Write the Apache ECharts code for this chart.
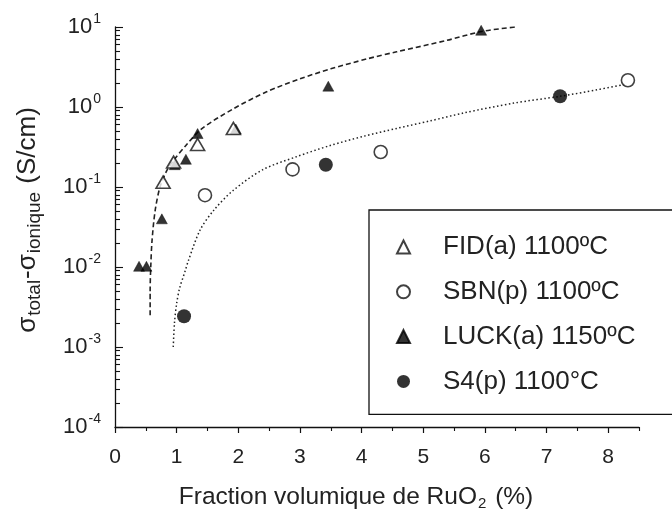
<!DOCTYPE html>
<html><head><meta charset="utf-8">
<script src="https://cdn.jsdelivr.net/npm/echarts@6/dist/echarts.min.js"></script>
<style>html,body{margin:0;padding:0;background:#fff}#c{width:672px;height:510px}</style>
</head><body><div id="c"></div>
<script>
// ---- data ----
const fidName = 'FID(a) 1100ºC';
const sbnName = 'SBN(p) 1100ºC';
const luckName = 'LUCK(a) 1150ºC';
const s4Name = 'S4(p) 1100°C';
const fidData = [[0.78, 0.115], [0.95, 0.205], [1.34, 0.34], [1.92, 0.54]];
const sbnData = [[1.46, 0.079], [2.88, 0.166], [4.31, 0.274], [8.32, 2.16]];
const luckData = [[0.39, 0.0102], [0.51, 0.0102], [0.76, 0.040], [0.97, 0.19], [1.15, 0.222], [1.34, 0.466], [1.96, 0.53], [3.46, 1.82], [5.94, 9.1]];
const s4Data = [[1.12, 0.00242], [3.42, 0.19], [7.22, 1.36]];
const fitDashed = [[0.57, 0.0025], [0.57, 0.005], [0.58, 0.01], [0.60, 0.021], [0.65, 0.05], [0.73, 0.10], [0.84, 0.16], [0.96, 0.22], [1.15, 0.33], [1.40, 0.53], [1.92, 0.95], [2.46, 1.55], [3.0, 2.25], [3.5, 3.0], [4.09, 4.0], [4.57, 4.9], [5.38, 6.8], [5.95, 8.8], [6.49, 10.0]];
const fitDotted = [[0.945, 0.001], [0.965, 0.002], [1.0, 0.0035], [1.05, 0.0055], [1.14, 0.009], [1.19, 0.012], [1.38, 0.029], [1.60, 0.051], [1.92, 0.091], [2.4, 0.165], [2.95, 0.24], [3.49, 0.33], [4.03, 0.43], [4.57, 0.54], [5.11, 0.67], [5.65, 0.84], [6.47, 1.12], [7.22, 1.36], [7.82, 1.64], [8.28, 1.92]];
const xTickLabels = [0, 1, 2, 3, 4, 5, 6, 7, 8];
const xMinorTicks = [0.5, 1.5, 2.5, 3.5, 4.5, 5.5, 6.5, 7.5, 8.5];
const yDecades = [1e-4, 1e-3, 1e-2, 1e-1, 1, 10];
// tick positions in decade units (exponents) for the overlay tick axes
const yMajorExp = yDecades.map(v => Math.round(Math.log10(v)));
const yMinorExp = [];
for (let d = 0; d < yDecades.length - 1; d++) {
  for (let k = 2; k <= 9; k++) yMinorExp.push(Math.log10(k * yDecades[d]));
}

const FONT = 'Liberation Sans';
const INK = '#111';
const TXT = '#222';
const chart = echarts.init(document.getElementById('c'), null, {renderer: 'canvas'});
const xBase = {
  type: 'value', min: 0, max: 8.5, gridIndex: 0, position: 'bottom',
  splitLine: {show: false}
};
const tickAxis = (vals, len) => ({
  type: 'value', min: -4, max: 1, gridIndex: 0, position: 'left',
  axisLine: {show: false, onZero: false}, splitLine: {show: false}, axisLabel: {show: false},
  axisTick: {show: true, inside: true, length: len, customValues: vals, lineStyle: {color: INK, width: 1.1}}
});
chart.setOption({
  backgroundColor: '#fff',
  animation: false,
  grid: {left: 115, right: 33, top: 27, bottom: 83, containLabel: false, outerBoundsMode: 'none'},
  xAxis: [
    Object.assign({}, xBase, {
      axisLine: {show: true, onZero: false, lineStyle: {color: INK, width: 1.3}},
      axisTick: {show: true, inside: false, length: 6, customValues: xTickLabels, lineStyle: {color: INK, width: 1.2}},
      axisLabel: {show: true, customValues: xTickLabels, margin: 20, fontFamily: FONT, fontSize: 21, color: TXT},
      name: 'Fraction volumique de RuO{sub|2} (%)',
      nameLocation: 'middle', nameGap: 57,
      nameTextStyle: {fontFamily: FONT, fontSize: 24.5, color: TXT, padding: [0, 42, 0, 0],
        rich: {sub: {fontFamily: FONT, fontSize: 15, color: TXT, padding: [12, 2, 0, 1]}}}
    }),
    Object.assign({}, xBase, {
      axisLine: {show: false, onZero: false},
      axisTick: {show: true, inside: false, length: 4, customValues: xMinorTicks, lineStyle: {color: INK, width: 1.1}},
      axisLabel: {show: false}
    })
  ],
  yAxis: [
    {
      type: 'log', logBase: 10, min: 1e-4, max: 10, gridIndex: 0, position: 'left',
      splitLine: {show: false}, minorSplitLine: {show: false},
      axisLine: {show: true, onZero: false, lineStyle: {color: INK, width: 1.3}},
      axisTick: {show: false},
      axisLabel: {
        show: true, margin: 14,
        formatter: function (v) { return '{b|10}{s|' + Math.round(Math.log10(v)) + '}'; },
        rich: {
          b: {fontFamily: FONT, fontSize: 22, color: TXT},
          s: {fontFamily: FONT, fontSize: 14, color: TXT, padding: [0, 0, 16, 1]}
        }
      },
      name: 'σ{sub|total}-σ{sub|ionique} (S/cm)',
      nameLocation: 'middle', nameRotate: 90, nameGap: 71,
      nameTextStyle: {fontFamily: FONT, fontSize: 26, color: TXT, padding: [0, 0, 0, 14],
        rich: {sub: {fontFamily: FONT, fontSize: 19, color: TXT, padding: [14, 1, 0, 1]}}}
    },
    tickAxis(yMajorExp, 8),
    tickAxis(yMinorExp, 5)
  ],
  legend: {
    orient: 'vertical', left: 369, top: 210,
    padding: [24, 260, 20, 27],
    borderColor: INK, borderWidth: 1.3, borderRadius: 0,
    itemWidth: 13, itemHeight: 13, itemGap: 18.8,
    selectedMode: false,
    data: [fidName, sbnName, luckName, s4Name],
    formatter: function (n) { return '{t|' + n + '}'; },
    textStyle: {
      rich: {t: {fontFamily: FONT, fontSize: 26, color: TXT, lineHeight: 26, padding: [0, 0, 0, 28]}}
    }
  },
  series: [
    {type: 'line', name: 'fitDashed', data: fitDashed, showSymbol: false, smooth: 0.3, silent: true,
      lineStyle: {color: '#222', width: 1.6, type: [5, 3]}, z: 1},
    {type: 'line', name: 'fitDotted', data: fitDotted, showSymbol: false, smooth: 0.3, silent: true,
      lineStyle: {color: '#222', width: 1.5, type: [1.5, 2.5]}, z: 1},
    {type: 'scatter', name: luckName, data: luckData, symbol: 'triangle', symbolSize: [11, 10],
      itemStyle: {color: '#000', borderColor: '#000', borderWidth: 0.5}, z: 3},
    {type: 'scatter', name: s4Name, data: s4Data, symbol: 'circle', symbolSize: 14,
      itemStyle: {color: '#000'}, z: 3},
    {type: 'scatter', name: sbnName, data: sbnData, symbol: 'circle', symbolSize: 13,
      itemStyle: {color: '#fff', borderColor: INK, borderWidth: 1.6}, z: 4},
    {type: 'scatter', name: fidName, data: fidData, symbol: 'triangle', symbolSize: [14, 12],
      itemStyle: {color: '#fff', borderColor: INK, borderWidth: 1.6}, z: 4}
  ]
});
</script></body></html>
